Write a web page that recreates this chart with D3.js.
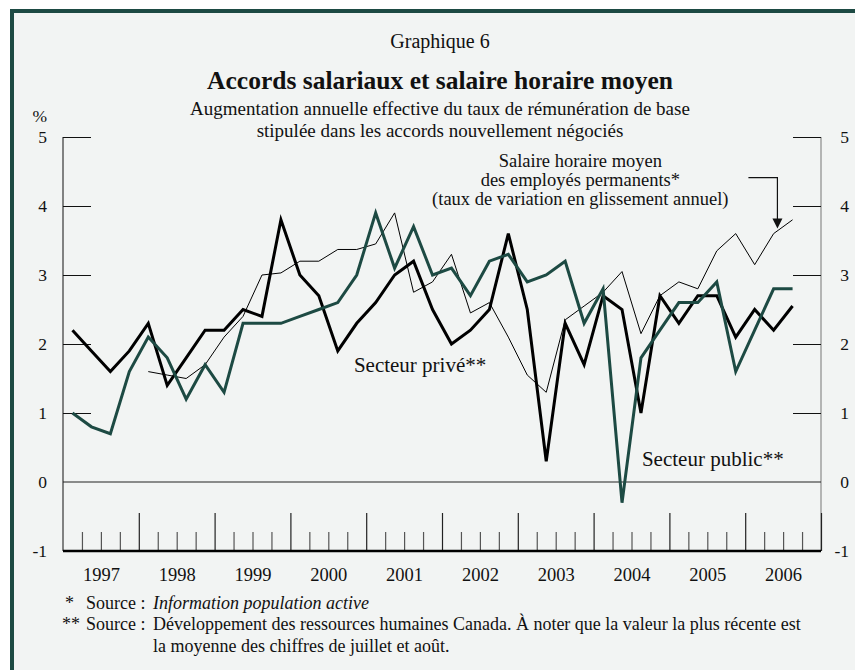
<!DOCTYPE html>
<html>
<head>
<meta charset="utf-8">
<script src="https://cdn.jsdelivr.net/npm/d3@7"></script>
<style>
  body { margin: 0; background: #fff; }
  text { font-family: "Liberation Serif", "Times New Roman", serif; fill: #111; }
</style>
</head>
<body>
<div class="canvas"></div>
<script>
// data: quarterly values, 1997T1 .. 2006T3
const years = ["1997","1998","1999","2000","2001","2002","2003","2004","2005","2006"];
const privateSector = [2.2,1.9,1.6,1.9, 2.3,1.4,1.8,2.2, 2.2,2.5,2.4,3.8, 3.0,2.7,1.9,2.3,
  2.6,3.0,3.2,2.5, 2.0,2.2,2.5,3.6, 2.5,0.3,2.3,1.7, 2.7,2.5,1.0,2.7, 2.3,2.7,2.7,2.1, 2.5,2.2,2.55];
const publicSector = [1.0,0.8,0.7,1.6, 2.1,1.8,1.2,1.7, 1.3,2.3,2.3,2.3, 2.4,2.5,2.6,3.0,
  3.9,3.1,3.7,3.0, 3.1,2.7,3.2,3.3, 2.9,3.0,3.2,2.3, 2.8,-0.3,1.8,2.2, 2.6,2.6,2.9,1.6, 2.2,2.8,2.8];
const hourlyWage = [null,null,null,null, 1.6,1.55,1.5,1.7, 2.1,2.4,3.0,3.03, 3.2,3.2,3.37,3.37,
  3.45,3.9,2.75,2.9, 3.3,2.45,2.6,2.1, 1.55,1.3,2.35,2.55, 2.75,3.05,2.15,2.7, 2.9,2.8,3.35,3.6, 3.15,3.6,3.8];
const yTicks = [-1,0,1,2,3,4,5];

const W = 855, H = 670;
const margin = {top: 137, right: 34, bottom: 119, left: 63},
    width = W - margin.left - margin.right,
    height = H - margin.top - margin.bottom;

const green = "#1d4a43";

const root = d3.select(".canvas")
  .append("svg")
    .attr("width", W)
    .attr("height", H);

// framed panel
root.append("rect")
    .attr("x", 12).attr("y", 11)
    .attr("width", 900).attr("height", 700)
    .attr("fill", "#f2f4f3")
    .attr("stroke", green)
    .attr("stroke-width", 4);

const svg = root.append("g")
    .attr("transform", `translate(${margin.left},${margin.top})`);

// scales (x in quarters from 1997T1)
const nQ = years.length * 4;
const x = d3.scaleLinear().domain([0, nQ]).range([0, width]);
const y = d3.scaleLinear().domain([-1, 5]).range([height, 0]);
const xq = (d, i) => x(i + 0.5);

// titles
const cx = margin.left + width / 2;
root.append("text").attr("x", cx - 2).attr("y", 48)
    .attr("text-anchor", "middle").style("font-size", "20px")
    .text("Graphique 6");
root.append("text").attr("x", cx - 2).attr("y", 89)
    .attr("text-anchor", "middle").style("font-size", "25.5px").style("font-weight", "bold")
    .text("Accords salariaux et salaire horaire moyen");
root.append("text").attr("x", cx - 2).attr("y", 115)
    .attr("text-anchor", "middle").style("font-size", "19px")
    .text("Augmentation annuelle effective du taux de rémunération de base");
root.append("text").attr("x", cx - 2).attr("y", 136.5)
    .attr("text-anchor", "middle").style("font-size", "19px")
    .text("stipulée dans les accords nouvellement négociés");
root.append("text").attr("x", 47).attr("y", 122)
    .attr("text-anchor", "end").style("font-size", "17.5px")
    .text("%");

// left and right axis lines
svg.append("line").attr("x1", 0).attr("x2", 0).attr("y1", 0).attr("y2", height)
    .attr("stroke", "#111").attr("stroke-width", 1);
svg.append("line").attr("x1", width).attr("x2", width).attr("y1", 0).attr("y2", height)
    .attr("stroke", "#8a8a8a").attr("stroke-width", 1.2);

// y tick marks, pointing inward
svg.append("g")
    .call(d3.axisLeft(y).tickValues(yTicks.filter(d => d > 0)).tickSize(-28).tickFormat(""))
    .call(g => g.select(".domain").remove())
    .call(g => g.selectAll("line").attr("stroke", "#111"));
svg.append("g")
    .attr("transform", `translate(${width},0)`)
    .call(d3.axisRight(y).tickValues(yTicks.filter(d => d > 0)).tickSize(-28).tickFormat(""))
    .call(g => g.select(".domain").remove())
    .call(g => g.selectAll("line").attr("stroke", "#111"));

// y labels both sides (plain hyphen for negatives, as in the original)
const fmt = d => String(d);
svg.append("g")
    .call(d3.axisLeft(y).tickValues(yTicks).tickSize(0).tickPadding(16).tickFormat(fmt))
    .call(g => g.select(".domain").remove())
    .call(g => g.selectAll("text").style("font-size", "17.5px")
        .style("font-family", '"Liberation Serif", serif').attr("fill", "#111"));
svg.append("g")
    .attr("transform", `translate(${width + 28},0)`)
    .call(d3.axisRight(y).tickValues(yTicks).tickSize(0).tickPadding(0).tickFormat(fmt))
    .call(g => g.select(".domain").remove())
    .call(g => g.selectAll("text").attr("text-anchor", "end").style("font-size", "17.5px")
        .style("font-family", '"Liberation Serif", serif').attr("fill", "#111"));

// zero line
svg.append("line")
    .attr("x1", 0).attr("x2", width)
    .attr("y1", y(0)).attr("y2", y(0))
    .attr("stroke", "#222").attr("stroke-width", 1.2);

// x axis: quarter ticks (short) and year ticks (long), drawn upward
const minorQ = d3.range(1, nQ).filter(q => q % 4 !== 0);
const majorQ = d3.range(4, nQ + 1, 4);
svg.append("g")
    .attr("transform", `translate(0,${height})`)
    .call(d3.axisBottom(x).tickValues(minorQ).tickSize(-19).tickFormat(""))
    .call(g => g.select(".domain").remove())
    .call(g => g.selectAll("line").attr("stroke", "#555").attr("stroke-width", 1.2));
svg.append("g")
    .attr("transform", `translate(0,${height})`)
    .call(d3.axisBottom(x).tickValues(majorQ).tickSize(-38).tickFormat(""))
    .call(g => g.select(".domain").remove())
    .call(g => g.selectAll("line").attr("stroke", "#222").attr("stroke-width", 1.2));
svg.append("line")
    .attr("x1", 0).attr("x2", width).attr("y1", height).attr("y2", height)
    .attr("stroke", "#000").attr("stroke-width", 2.5);

// year labels
svg.append("g")
    .attr("transform", `translate(0,${height})`)
    .call(d3.axisBottom(x).tickValues(years.map((d, i) => i * 4 + 2)).tickSize(0).tickPadding(17)
        .tickFormat((d) => years[(d - 2) / 4]))
    .call(g => g.select(".domain").remove())
    .call(g => g.selectAll("text").style("font-size", "18.5px")
        .style("font-family", '"Liberation Serif", serif').attr("fill", "#111"));

// lines
const line = d3.line()
    .defined(d => d != null)
    .x(xq)
    .y(d => y(d));

svg.append("path").datum(hourlyWage)
    .attr("fill", "none").attr("stroke", "#000").attr("stroke-width", 1)
    .attr("stroke-linejoin", "miter")
    .attr("d", line);
svg.append("path").datum(privateSector)
    .attr("fill", "none").attr("stroke", "#000").attr("stroke-width", 3)
    .attr("stroke-linejoin", "miter")
    .attr("d", line);
svg.append("path").datum(publicSector)
    .attr("fill", "none").attr("stroke", green).attr("stroke-width", 3)
    .attr("stroke-linejoin", "miter")
    .attr("d", line);

// series labels
svg.append("text").attr("x", x(15.35)).attr("y", y(1.6))
    .style("font-size", "21px").text("Secteur privé**");
svg.append("text").attr("x", x(30.55)).attr("y", y(0.23))
    .style("font-size", "21px").text("Secteur public**");

const note = svg.append("text").attr("text-anchor", "middle").style("font-size", "18.5px");
["Salaire horaire moyen", "des employés permanents*", "(taux de variation en glissement annuel)"]
  .forEach((t, i) => {
    note.append("tspan").attr("x", x(27.3)).attr("y", y(4.56) + i * 18.7).text(t);
  });

// arrow to the wage line
const ax = x(37.7), tipY = y(hourlyWage[37]) - 5;
svg.append("path")
    .attr("d", `M${ax - 29},${tipY - 51} H${ax} V${tipY - 8}`)
    .attr("fill", "none").attr("stroke", "#111").attr("stroke-width", 1.2);
svg.append("path")
    .attr("d", `M${ax - 5},${tipY - 10} L${ax + 5},${tipY - 10} L${ax},${tipY} Z`)
    .attr("fill", "#111");

// footnotes
const fn = root.append("g").style("font-size", "18px");
fn.append("text").attr("x", 65).attr("y", 609).text("*");
fn.append("text").attr("x", 86).attr("y", 609).text("Source :");
fn.append("text").attr("x", 153).attr("y", 609).style("font-style", "italic")
    .text("Information population active");
fn.append("text").attr("x", 62).attr("y", 630).text("**");
fn.append("text").attr("x", 86).attr("y", 630).text("Source :");
fn.append("text").attr("x", 153).attr("y", 630)
    .text("Développement des ressources humaines Canada. À noter que la valeur la plus récente est");
fn.append("text").attr("x", 153).attr("y", 652)
    .text("la moyenne des chiffres de juillet et août.");
</script>
</body>
</html>
